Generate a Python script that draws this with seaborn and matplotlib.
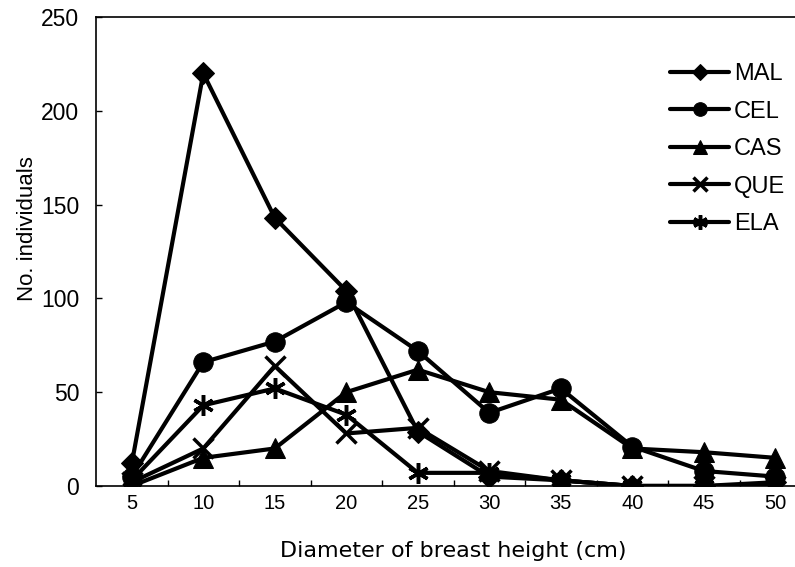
import matplotlib
matplotlib.use("Agg")
import matplotlib.pyplot as plt
import seaborn as sns
import pandas as pd

categories = ["5", "10", "15", "20", "25", "30", "35", "40", "45", "50"]
MAL = [12, 220, 143, 104, 29, 5, 3, 0, 0, 2]
CEL = [5, 66, 77, 98, 72, 39, 52, 21, 8, 5]
CAS = [0, 15, 20, 50, 62, 50, 46, 20, 18, 15]
QUE = [2, 20, 64, 28, 31, 8, 3, 0, 0, 0]
ELA = [3, 43, 52, 38, 7, 7, 3, 0, 0, 0]
series_names = ["MAL", "CEL", "CAS", "QUE", "ELA"]
series_values = [MAL, CEL, CAS, QUE, ELA]
yticks = [0, 50, 100, 150, 200, 250]

sns.set_theme(style="white")
plt.rcParams["font.family"] = ["Liberation Sans", "DejaVu Sans"]
plt.rcParams["text.color"] = "black"
plt.rcParams["axes.labelcolor"] = "black"
plt.rcParams["xtick.color"] = "black"
plt.rcParams["ytick.color"] = "black"

fig = plt.figure(figsize=(7.95, 5.67), dpi=100)
ax = fig.add_axes([0.1208, 0.1429, 0.8994, 0.827])

styles = {
    "MAL": dict(marker="D", markersize=11.5),
    "CEL": dict(marker="o", markersize=14),
    "CAS": dict(marker="^", markersize=14.5),
    "QUE": dict(marker="x", markersize=14, markeredgewidth=2.5),
    "ELA": dict(marker=(6, 2, 0), markersize=15, markeredgewidth=2.5),
}

for name, vals in zip(series_names, series_values):
    df = pd.DataFrame({"x": categories, "y": vals})
    sns.lineplot(data=df, x="x", y="y", ax=ax, color="black", linewidth=3,
                 label=name, sort=False, markeredgecolor="black",
                 **styles[name])

ax.set_xlim(-0.5, 9.5)
ax.set_ylim(0, 250)
ax.set_yticks(yticks)
ax.set_xticks(range(len(categories)))
ax.set_xticklabels(categories)
ax.set_xticks([i + 0.5 for i in range(len(categories) - 1)], minor=True)
ax.tick_params(axis="x", which="major", length=0, labelsize=14.5, pad=6)
ax.tick_params(axis="x", which="minor", direction="in", length=4, width=1,
               bottom=True, color="black")
ax.tick_params(axis="y", direction="in", length=4, width=1, left=True,
               labelsize=16.5, pad=12, color="black")

for s in ["left", "bottom", "top"]:
    ax.spines[s].set_color("black")
    ax.spines[s].set_linewidth(1.2)
ax.spines["right"].set_visible(False)

ax.set_xlabel("Diameter of breast height (cm)", fontsize=16,
              family=["DejaVu Sans"], labelpad=20)
ax.set_ylabel("No. individuals", fontsize=16, labelpad=2)
ax.yaxis.label.set_y(0.55)

leg = ax.legend(loc="upper left", bbox_to_anchor=(670 / 795, 1 - 63 / 567),
                bbox_transform=fig.transFigure, frameon=False,
                fontsize=17, markerscale=0.7, handlelength=2.5,
                labelspacing=0.66, handletextpad=0.2, borderpad=0,
                borderaxespad=0)
for line in leg.get_lines():
    line.set_linewidth(3)

fig.savefig("out.png", dpi=100)
